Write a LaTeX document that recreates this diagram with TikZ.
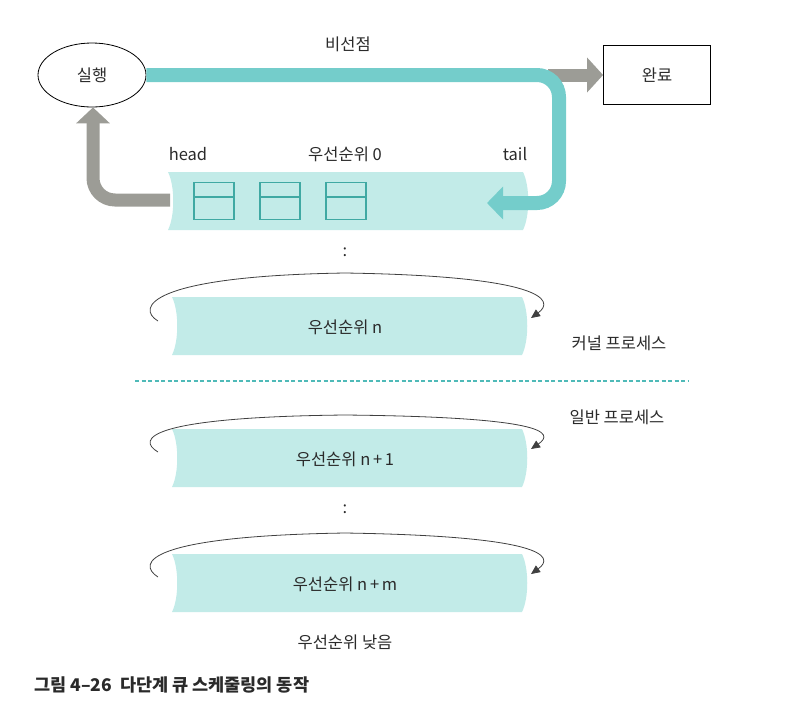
\documentclass[tikz,border=0pt]{standalone}
\usepackage{fontspec}
\setmainfont{Noto Sans CJK KR}
\usetikzlibrary{arrows.meta,shapes.geometric}
\definecolor{tealarrow}{HTML}{74CDCB}
\definecolor{tealdash}{HTML}{4FBAB8}
\definecolor{queuefill}{HTML}{C2EBE8}
\definecolor{boxline}{HTML}{3FA9A3}
\definecolor{grayarrow}{HTML}{9C9C96}
\definecolor{txt}{HTML}{2A2A2A}
\tikzset{
  lbl/.style={text=txt, font=\fontsize{16.5}{19}\selectfont, inner sep=0pt},
  qbox/.style={draw=boxline, line width=1.3pt, minimum width=40pt, minimum height=37pt, inner sep=0pt},
  looparrow/.style={draw=black!75, line width=0.8pt, -{Triangle[length=9pt,width=8pt]}},
  bigteal/.style={draw=tealarrow, line width=14pt, rounded corners=22pt},
  biggray/.style={draw=grayarrow, line width=13pt, rounded corners=22pt},
}
\newcommand{\queueshape}[3]{% x0 x1 ycenter
  \fill[queuefill] (#1,#3-29) -- (#2,#3-29) .. controls (#2+7,#3-15) and (#2+7,#3+15) .. (#2,#3+29)
    -- (#1,#3+29) .. controls (#1+7,#3+15) and (#1+7,#3-15) .. (#1,#3-29) -- cycle;
}
\begin{document}
\begin{tikzpicture}[x=1pt,y=-1pt]
\useasboundingbox (0,0) rectangle (810,713);

% queues
\queueshape{168}{523}{201}
\queueshape{172}{522}{326}
\queueshape{172}{522}{458}
\queueshape{172}{522}{583}

% nodes
\node[ellipse, draw, line width=0.8pt, minimum width=108pt, minimum height=64pt, lbl] (run) at (92,75) {실행};
\node[rectangle, draw, line width=0.8pt, minimum width=107pt, minimum height=59pt, lbl] (done) at (657,75) {완료};
\node[lbl] (nonpre) at (348,44) {비선점};
\node[lbl] (head) at (188,154) {head};
\node[lbl] (p0) at (345,154) {우선순위 0};
\node[lbl] (tail) at (515,154) {tail};

% boxes in queue 0
\foreach \i/\x in {1/214,2/280,3/346}{
  \node[qbox] (b\i) at (\x,201) {};
  \draw[boxline, line width=1.3pt] (b\i.west |- 0,197) -- (b\i.east |- 0,197);
}

% gray arrow to done
\coordinate (gstart) at (548,75);
\draw[biggray, -{Triangle[length=16pt,width=34pt]}] (gstart) -- (done.west);

% teal arrow
\coordinate (tc1) at (559,75);
\coordinate (tc2) at (559,203);
\coordinate (ttip) at (487,203);
\draw[bigteal, -{Triangle[length=16pt,width=32pt]}] (run.east) -- (tc1) -- (tc2) -- (ttip);

% gray arrow from head back to run
\coordinate (hstart) at (170,200);
\coordinate (hc) at (93,200);
\draw[biggray, -{Triangle[length=16pt,width=33pt]}] (hstart) -- (hc) -- (run.south -| hc);

% dots
\node[lbl] (d1) at (345,252) {:};
\node[lbl] (d2) at (345,509) {:};

% priority n
\node[lbl] (pn) at (345,327) {우선순위 n};
\coordinate (ln1) at (158,321);
\coordinate (ln2) at (531,318);
\draw[looparrow] (ln1) .. controls (136,308) and (148,276) .. (345,273) .. controls (542,276) and (556,300) .. (ln2);

\node[lbl] (kern) at (619,343) {커널 프로세스};
\coordinate (dl1) at (135,381);
\coordinate (dl2) at (689,381);
\draw[tealdash, line width=1.1pt, dash pattern=on 4pt off 2.5pt] (dl1) -- (dl2);
\node[lbl] (user) at (617,417) {일반 프로세스};

% priority n+1
\node[lbl] (pn1) at (345,459) {우선순위 n\,+\,1};
\coordinate (la1) at (158,452);
\coordinate (la2) at (531,449);
\draw[looparrow] (la1) .. controls (136,439) and (148,417) .. (345,415) .. controls (542,417) and (556,432) .. (la2);

% priority n+m
\node[lbl] (pnm) at (345,584) {우선순위 n\,+\,m};
\coordinate (lb1) at (158,577);
\coordinate (lb2) at (531,574);
\draw[looparrow] (lb1) .. controls (136,563) and (148,536) .. (345,533) .. controls (542,536) and (556,556) .. (lb2);

\node[lbl] (low) at (345,642) {우선순위 낮음};

% caption
\node[lbl, anchor=west, font=\fontsize{17.5}{20}\selectfont\bfseries] (cap) at (34,685) {그림 4–26\ \ 다단계 큐 스케줄링의 동작};
\end{tikzpicture}
\end{document}
